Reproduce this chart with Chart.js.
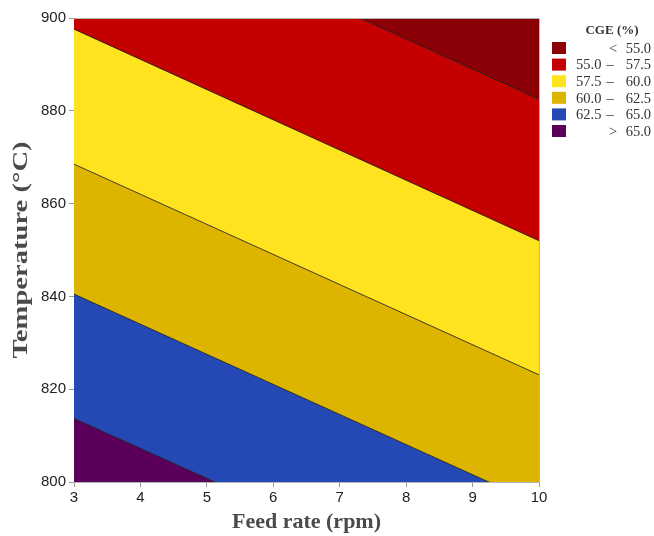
<!DOCTYPE html>
<html>
<head>
<meta charset="utf-8">
<script src="https://cdn.jsdelivr.net/npm/chart.js@4.4.0/dist/chart.umd.min.js"></script>
<style>
  html, body { margin: 0; padding: 0; background: #fff; }
  #wrap { width: 654px; height: 536px; position: relative; }
</style>
</head>
<body>
<div id="wrap"><canvas id="contourChart"></canvas></div>
<script>
// Contour boundaries of CGE (%) - straight lines, temperature at feed rate 3 and 10 rpm
const feedRate = [3, 10];
const levels = [55.0, 57.5, 60.0, 62.5, 65.0];
const tempLine55 = [927.9, 882.5];
const tempLine575 = [897.6, 852.0];
const tempLine60 = [868.5, 823.1];
const tempLine625 = [840.5, 795.1];
const tempLine65 = [813.7, 768.5];

const xTicks = [3, 4, 5, 6, 7, 8, 9, 10];
const yTicks = [800, 820, 840, 860, 880, 900];

const legendLabels = [
    ['', '<', '55.0'],
    ['55.0', '–', '57.5'],
    ['57.5', '–', '60.0'],
    ['60.0', '–', '62.5'],
    ['62.5', '–', '65.0'],
    ['', '>', '65.0']
];
const bandColors = ['#8a0006', '#c40000', '#ffe31e', '#ddb400', '#2449b4', '#5a005a'];

function toPoints(temps) {
    return feedRate.map((x, i) => ({ x: x, y: temps[i] }));
}

const lines = [tempLine55, tempLine575, tempLine60, tempLine625, tempLine65];

const datasets = lines.map((t, i) => ({
    label: levels[i].toFixed(1),
    data: toPoints(t),
    borderColor: '#111',
    borderWidth: 0.8,
    pointRadius: 0,
    backgroundColor: bandColors[i],
    fill: i === 0 ? 'end' : '-1',
    order: 1
}));
// lowest band below the 65.0 line
datasets.push({
    label: '>65',
    data: toPoints(tempLine65),
    borderWidth: 0,
    borderColor: 'transparent',
    pointRadius: 0,
    backgroundColor: bandColors[5],
    fill: 'start',
    order: 2
});

const frameAndLegend = {
    id: 'frameAndLegend',
    afterDraw(chart) {
        const ctx = chart.ctx;
        const a = chart.chartArea;
        ctx.save();
        ctx.strokeStyle = '#b5b5b5';
        ctx.lineWidth = 1;
        ctx.beginPath();
        ctx.moveTo(a.left, a.top + 0.5);
        ctx.lineTo(a.right + 0.5, a.top + 0.5);
        ctx.lineTo(a.right + 0.5, a.bottom);
        ctx.stroke();

        // y axis title, stretched along its length like the original
        ctx.save();
        ctx.translate(21, (a.top + a.bottom) / 2);
        ctx.rotate(-Math.PI / 2);
        ctx.scale(1.3, 1);
        ctx.fillStyle = '#4a4a4a';
        ctx.font = 'bold 22px "Liberation Serif"';
        ctx.textAlign = 'center';
        ctx.textBaseline = 'middle';
        ctx.fillText('Temperature (°C)', 0, 0);
        ctx.restore();

        // legend
        ctx.fillStyle = '#333';
        ctx.font = 'bold 13px "Liberation Serif"';
        ctx.textAlign = 'center';
        ctx.textBaseline = 'middle';
        ctx.fillText('CGE (%)', 612, 31);
        ctx.font = '14.5px "Liberation Serif"';
        legendLabels.forEach((row, i) => {
            const y = 48 + i * 16.6;
            ctx.fillStyle = bandColors[i];
            ctx.fillRect(552, y - 6, 14, 12);
            ctx.fillStyle = '#333';
            ctx.textAlign = 'left';
            ctx.fillText(row[0], 576, y + 1);
            ctx.textAlign = 'center';
            ctx.fillText(row[1], row[0] ? 610 : 613, y + 1);
            ctx.textAlign = 'right';
            ctx.fillText(row[2], 651, y + 1);
        });
        ctx.restore();
    }
};

new Chart(document.getElementById('contourChart'), {
    type: 'line',
    data: { datasets: datasets },
    options: {
        responsive: true,
        maintainAspectRatio: false,
        animation: false,
        layout: { padding: { top: 18, right: 115, left: 0, bottom: 0 } },
        plugins: {
            legend: { display: false },
            tooltip: { enabled: false },
            filler: { propagate: false }
        },
        scales: {
            x: {
                type: 'linear',
                min: 3,
                max: 10,
                afterBuildTicks: s => { s.ticks = xTicks.map(v => ({ value: v })); },
                afterFit: s => { s.height = 54; },
                grid: { drawOnChartArea: false, tickLength: 5, color: '#999' },
                border: { color: '#b5b5b5' },
                ticks: { color: '#222', font: { family: 'Liberation Sans', size: 15 }, padding: 2 },
                title: {
                    display: true,
                    text: 'Feed rate (rpm)',
                    color: '#4a4a4a',
                    font: { family: 'Liberation Serif', size: 22, weight: 'bold' },
                    padding: { top: 4, bottom: 0 }
                }
            },
            y: {
                type: 'linear',
                min: 800,
                max: 900,
                afterBuildTicks: s => { s.ticks = yTicks.map(v => ({ value: v })); },
                afterFit: s => { s.width = 74; },
                grid: { drawOnChartArea: false, tickLength: 5, color: '#999' },
                border: { color: '#b5b5b5' },
                ticks: { color: '#222', font: { family: 'Liberation Sans', size: 15 }, padding: 3 }
            }
        }
    },
    plugins: [frameAndLegend]
});
</script>
</body>
</html>
